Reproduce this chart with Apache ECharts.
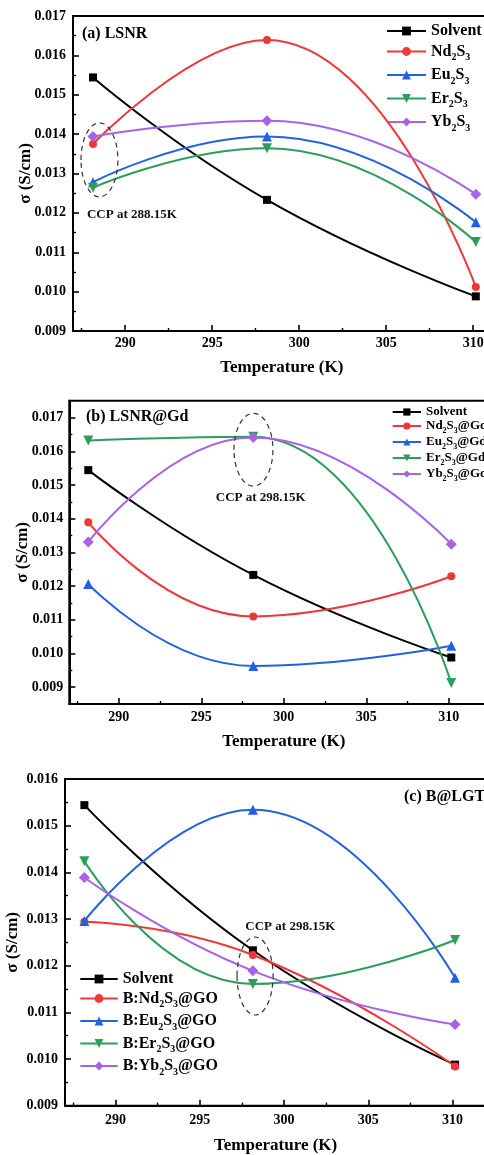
<!DOCTYPE html>
<html><head><meta charset="utf-8">
<script src="https://cdn.jsdelivr.net/npm/echarts@6/dist/echarts.min.js"></script>
<style>html,body{margin:0;padding:0;background:#fff}#c{width:484px;height:1155px}</style>
</head><body><div id="c"></div>
<script>
// ---------- data ----------
const temps = [288.15, 298.15, 310.15];
const solvent = [0.01544, 0.01233, 0.00988];
// (a) LSNR
const namesA = ['Solvent', 'Nd2S3', 'Eu2S3', 'Er2S3', 'Yb2S3'];
const a_Nd = [0.01375, 0.01639, 0.01012];
const a_Eu = [0.01278, 0.01394, 0.01176];
const a_Er = [0.01264, 0.01364, 0.01126];
const a_Yb = [0.01394, 0.01434, 0.01247];
// (b) LSNR@Gd
const namesB = ['Solvent', 'Nd2S3@Gd', 'Eu2S3@Gd', 'Er2S3@Gd', 'Yb2S3@Gd'];
const b_Nd = [0.01389, 0.01110, 0.01229];
const b_Eu = [0.01206, 0.00963, 0.01023];
const b_Er = [0.01632, 0.01643, 0.00912];
const b_Yb = [0.01331, 0.01641, 0.01324];
// (c) B@LGT
const namesC = ['Solvent', 'B:Nd2S3@GO', 'B:Eu2S3@GO', 'B:Er2S3@GO', 'B:Yb2S3@GO'];
const c_Nd = [0.01294, 0.01223, 0.00984];
const c_Eu = [0.01296, 0.01534, 0.01174];
const c_Er = [0.01424, 0.01161, 0.01255];
const c_Yb = [0.01389, 0.01189, 0.01074];
// tick labels
const xMajorTicks = [290, 295, 300, 305, 310];
const xMinorTicks = [287.5, 292.5, 297.5, 302.5, 307.5, 312.5];
const yMajorAB = [0.009, 0.010, 0.011, 0.012, 0.013, 0.014, 0.015, 0.016, 0.017];
const yMinorAB = [0.0095, 0.0105, 0.0115, 0.0125, 0.0135, 0.0145, 0.0155, 0.0165];
const yMajorC = [0.009, 0.010, 0.011, 0.012, 0.013, 0.014, 0.015, 0.016];
const yMinorC = [0.0095, 0.0105, 0.0115, 0.0125, 0.0135, 0.0145, 0.0155];
const panelTitles = ['(a) LSNR', '(b) LSNR@Gd', '(c) B@LGT'];
const ccpLabels = ['CCP at 288.15K', 'CCP at 298.15K', 'CCP at 298.15K'];
const xTitle = 'Temperature (K)';
const yTitle = 'σ (S/cm)';

// ---------- layout / style ----------
const FONT = 'Liberation Serif';
const styles = [
  {color: '#000000', symbol: 'rect', size: 8},
  {color: '#ee3737', symbol: 'circle', size: 8},
  {color: '#2262e0', symbol: 'triangle', size: 10},
  {color: '#2d9d5c', symbol: 'triangle', size: 10, rotate: 180},
  {color: '#a862e4', symbol: 'diamond', size: 11}
];
const panels = [
  {grid: {left: 73, top: 16, width: 417.6, height: 315}, xMin: 287, xMax: 311, yMin: 0.009, yMax: 0.017,
   yMajor: yMajorAB, yMinor: yMinorAB, names: namesA, values: [solvent, a_Nd, a_Eu, a_Er, a_Yb],
   yGap: 38.5, xGap: 28, xMargin: 5, yMargin: 7,
   legend: {left: 386, top: 23, itemWidth: 39, itemHeight: 11, fontSize: 16, sub: 10, subPad: 12, gap: 4.5},
   title: {left: 82, top: 26},
   ell: [288.52, 0.013345, 1.06, 0.00094], txt: [287.8, 0.01195, 'left']},
  {grid: {left: 69.3, top: 400.7, width: 429, height: 303.3}, xMin: 287, xMax: 313, yMin: 0.0085, yMax: 0.0175,
   yMajor: yMajorAB, yMinor: yMinorAB, names: namesB, values: [solvent, b_Nd, b_Eu, b_Er, b_Yb],
   yGap: 38, xGap: 29, xMargin: 6, yMargin: 6,
   legend: {left: 391.7, top: 405.5, itemWidth: 28.3, itemHeight: 9, fontSize: 13, sub: 8, subPad: 9, gap: 1},
   title: {left: 86, top: 409},
   ell: [298.16, 0.016046, 1.18, 0.00108], txt: [298.6, 0.014609, 'center']},
  {grid: {left: 65, top: 779, width: 421.25, height: 326.7}, xMin: 287, xMax: 312, yMin: 0.009, yMax: 0.016,
   yMajor: yMajorC, yMinor: yMinorC, names: namesC, values: [solvent, c_Nd, c_Eu, c_Er, c_Yb],
   yGap: 44, xGap: 31, xMargin: 8, yMargin: 7,
   legend: {left: 79.3, top: 971, itemWidth: 37.4, itemHeight: 11, fontSize: 16, sub: 10, subPad: 12, gap: 3.5},
   title: {left: 404, top: 789},
   ell: [298.28, 0.011779, 1.07, 0.000836], txt: [300.37, 0.012835, 'center']}
];

const txt = (size, extra) => Object.assign({fontFamily: FONT, fontWeight: 'bold', fontSize: size, color: '#000'}, extra || {});
const subFmt = name => name.replace(/(\d)/g, '{s|$1}');

const grids = [], xAxes = [], yAxes = [], series = [], legends = [], titles = [];
panels.forEach((p, i) => {
  grids.push(Object.assign({show: true, borderColor: '#000', borderWidth: 2, containLabel: false, outerBoundsMode: 'none'}, p.grid));
  // main x
  xAxes.push({type: 'value', gridIndex: i, position: 'bottom', min: p.xMin, max: p.xMax,
    name: xTitle, nameLocation: 'middle', nameGap: p.xGap, nameMoveOverlap: false, nameTextStyle: txt(17),
    axisLine: {onZero: false, lineStyle: {color: '#000', width: 2}},
    axisTick: {inside: true, length: 6, lineStyle: {color: '#000', width: 1.6}, customValues: xMajorTicks},
    axisLabel: {customValues: xMajorTicks, margin: p.xMargin, ...txt(14)},
    splitLine: {show: false}});
  // minor x
  xAxes.push({type: 'value', gridIndex: i, position: 'bottom', min: p.xMin, max: p.xMax,
    axisLine: {show: false, onZero: false},
    axisTick: {inside: true, length: 3, lineStyle: {color: '#000', width: 1.4}, customValues: xMinorTicks},
    axisLabel: {show: false}, splitLine: {show: false}});
  // main y
  yAxes.push({type: 'value', gridIndex: i, position: 'left', min: p.yMin, max: p.yMax,
    name: yTitle, nameLocation: 'middle', nameGap: p.yGap, nameRotate: 90, nameMoveOverlap: false, nameTextStyle: txt(17),
    axisLine: {onZero: false, lineStyle: {color: '#000', width: 2}},
    axisTick: {inside: true, length: 6, lineStyle: {color: '#000', width: 1.6}, customValues: p.yMajor},
    axisLabel: {customValues: p.yMajor, margin: p.yMargin, formatter: v => v.toFixed(3), ...txt(14)},
    splitLine: {show: false}});
  // minor y
  yAxes.push({type: 'value', gridIndex: i, position: 'left', min: p.yMin, max: p.yMax,
    axisLine: {show: false, onZero: false},
    axisTick: {inside: true, length: 3, lineStyle: {color: '#000', width: 1.4}, customValues: p.yMinor},
    axisLabel: {show: false}, splitLine: {show: false}});

  p.values.forEach((vals, k) => {
    const st = styles[k];
    series.push({type: 'line', name: p.names[k], xAxisIndex: 2 * i, yAxisIndex: 2 * i,
      data: temps.map((t, j) => [t, vals[j]]),
      smooth: 0.5, symbol: st.symbol, symbolSize: st.size, symbolRotate: st.rotate || 0,
      lineStyle: {color: st.color, width: 2}, itemStyle: {color: st.color}, z: 3 + k});
  });

  const L = p.legend;
  legends.push({orient: 'vertical', left: L.left, top: L.top, padding: 0, itemGap: L.gap,
    itemWidth: L.itemWidth, itemHeight: L.itemHeight, data: p.names, formatter: subFmt,
    selectedMode: false,
    textStyle: txt(L.fontSize, {rich: {s: txt(L.sub, {padding: [L.subPad, 0, 0, 0]})}})});

  titles.push({text: panelTitles[i], left: p.title.left, top: p.title.top, padding: 0, textStyle: txt(16)});
});

const chart = echarts.init(document.getElementById('c'));
chart.setOption({
  backgroundColor: '#fff', animation: false,
  title: titles, grid: grids, xAxis: xAxes, yAxis: yAxes, legend: legends, series: series
});

// annotations: dashed ellipse + CCP label, positioned through the axes' scales
const graphics = [];
panels.forEach((p, i) => {
  const finder = {xAxisIndex: 2 * i, yAxisIndex: 2 * i};
  const c = chart.convertToPixel(finder, [p.ell[0], p.ell[1]]);
  const r = chart.convertToPixel(finder, [p.ell[0] + p.ell[2], p.ell[1] + p.ell[3]]);
  graphics.push({type: 'ellipse', shape: {cx: c[0], cy: c[1], rx: r[0] - c[0], ry: c[1] - r[1]},
    style: {fill: 'none', stroke: '#333', lineWidth: 1.2, lineDash: [5, 4]}, z: 10});
  const t = chart.convertToPixel(finder, [p.txt[0], p.txt[1]]);
  graphics.push({type: 'text', x: t[0], y: t[1],
    style: {text: ccpLabels[i], font: 'bold 13px "Liberation Serif"', fill: '#111', align: p.txt[2], verticalAlign: 'middle'}, z: 10});
});
chart.setOption({graphic: graphics});
</script>
</body></html>
